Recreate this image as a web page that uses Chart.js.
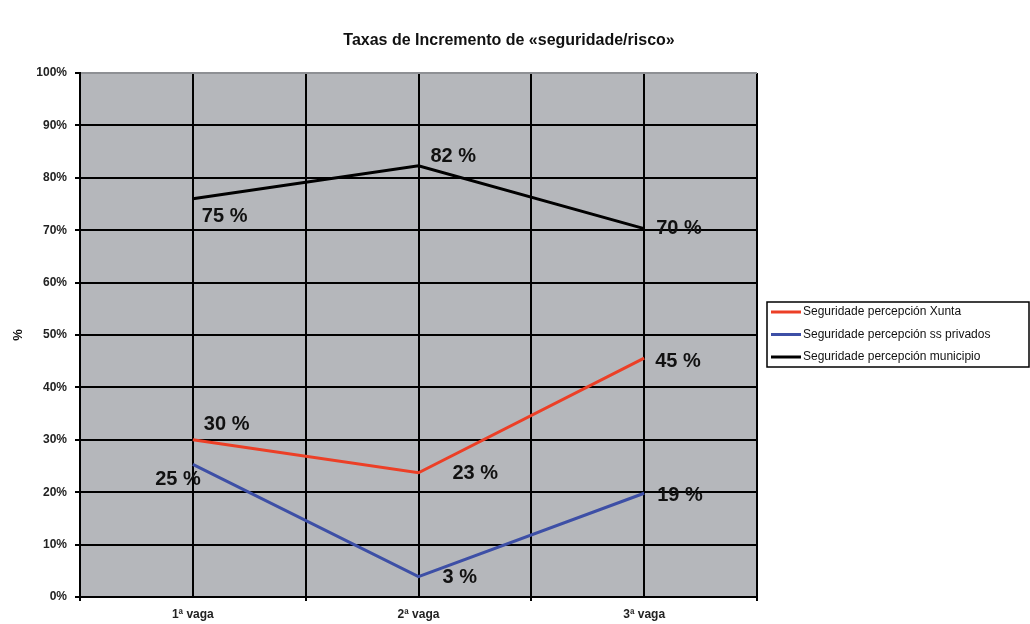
<!DOCTYPE html>
<html>
<head>
<meta charset="utf-8">
<script src="https://cdn.jsdelivr.net/npm/chart.js@4"></script>
<style>
  html, body { margin: 0; padding: 0; background: #fff; }
  #wrap { width: 1030px; height: 624px; }
</style>
</head>
<body>
<div id="wrap"><canvas id="chart"></canvas></div>
<script>
// Data
const categories = ['1ª vaga', '2ª vaga', '3ª vaga'];
const seriesNames = ['Seguridade percepción Xunta', 'Seguridade percepción ss privados', 'Seguridade percepción municipio'];
const xuntaValues = [30, 23.7, 45.6];
const privadosValues = [25.3, 3.9, 19.8];
const municipioValues = [76, 82.3, 70.3];
// labels as printed on the chart
const xuntaLabels = ['30 %', '23 %', '45 %'];
const privadosLabels = ['25 %', '3 %', '19 %'];
const municipioLabels = ['75 %', '82 %', '70 %'];
const yTicks = [0, 10, 20, 30, 40, 50, 60, 70, 80, 90, 100];
const chartTitle = 'Taxas de Incremento de «seguridade/risco»';

const seriesColors = ['#ec3f26', '#3d4fa6', '#000000'];

// where each value label sits relative to its point
const labelPlacement = [
  [{ dx: 11, dy: -15, align: 'left' }, { dx: 34, dy: 1, align: 'left' }, { dx: 11, dy: 3, align: 'left' }],
  [{ dx: 8, dy: 15, align: 'right' }, { dx: 24, dy: 1, align: 'left' }, { dx: 13, dy: 2, align: 'left' }],
  [{ dx: 9, dy: 18, align: 'left' }, { dx: 12, dy: -9, align: 'left' }, { dx: 12, dy: 0, align: 'left' }]
];
const allLabels = [xuntaLabels, privadosLabels, municipioLabels];

const plotBackground = {
  id: 'plotBackground',
  beforeDraw(chart) {
    const { ctx, chartArea: a } = chart;
    ctx.save();
    ctx.fillStyle = '#b5b7bb';
    ctx.fillRect(a.left, a.top, a.right - a.left, a.bottom - a.top);
    ctx.restore();
  }
};

// title centred on the whole picture, not just the plot
const pageTitle = {
  id: 'pageTitle',
  afterDraw(chart) {
    const ctx = chart.ctx;
    ctx.save();
    ctx.font = 'bold 16px "Liberation Sans", Arial, sans-serif';
    ctx.fillStyle = '#111';
    ctx.textAlign = 'center';
    ctx.textBaseline = 'middle';
    ctx.fillText(chartTitle, chart.width / 2 - 6, 41);
    ctx.restore();
  }
};

const valueLabels = {
  id: 'valueLabels',
  afterDatasetsDraw(chart) {
    const ctx = chart.ctx;
    ctx.save();
    ctx.font = 'bold 20px "Liberation Sans", Arial, sans-serif';
    ctx.fillStyle = '#111';
    ctx.textBaseline = 'middle';
    chart.data.datasets.forEach((ds, i) => {
      chart.getDatasetMeta(i).data.forEach((pt, j) => {
        const p = labelPlacement[i][j];
        ctx.textAlign = p.align;
        ctx.fillText(allLabels[i][j], pt.x + p.dx, pt.y + p.dy);
      });
    });
    ctx.restore();
  }
};

const boxLegend = {
  id: 'boxLegend',
  afterDraw(chart) {
    const ctx = chart.ctx;
    const left = 767, top = 302, w = 262, h = 65;
    ctx.save();
    ctx.fillStyle = '#fff';
    ctx.fillRect(left, top, w, h);
    ctx.strokeStyle = '#000';
    ctx.lineWidth = 1.5;
    ctx.strokeRect(left, top, w, h);
    ctx.font = '12px "Liberation Sans", Arial, sans-serif';
    ctx.fillStyle = '#111';
    ctx.textBaseline = 'middle';
    ctx.textAlign = 'left';
    chart.data.datasets.forEach((ds, i) => {
      const y = top + 10 + i * 22.5;
      ctx.strokeStyle = ds.borderColor;
      ctx.lineWidth = 3;
      ctx.beginPath();
      ctx.moveTo(left + 4, y);
      ctx.lineTo(left + 34, y);
      ctx.stroke();
      ctx.fillText(ds.label, left + 36, y);
    });
    ctx.restore();
  }
};

const valueSets = [xuntaValues, privadosValues, municipioValues];

new Chart(document.getElementById('chart'), {
  type: 'line',
  data: {
    labels: categories,
    datasets: valueSets.map((vals, i) => ({
      label: seriesNames[i],
      data: vals,
      borderColor: seriesColors[i],
      backgroundColor: seriesColors[i],
      borderWidth: 3,
      pointRadius: 0,
      tension: 0,
      fill: false
    }))
  },
  options: {
    responsive: true,
    maintainAspectRatio: false,
    animation: false,
    layout: { padding: { left: 0, right: 273, top: 73, bottom: 0 } },
    plugins: {
      legend: { display: false },
      tooltip: { enabled: false },
      title: { display: false }
    },
    scales: {
      x: {
        type: 'category',
        offset: true,
        grid: {
          offset: true,
          color: ctx => ctx.index === categories.length ? '#8e9094' : '#000',
          lineWidth: 2,
          tickLength: 4,
          tickColor: '#000'
        },
        border: { display: true, color: '#000', width: 2 },
        ticks: {
          color: '#222',
          padding: 6,
          font: { family: '"Liberation Sans", Arial, sans-serif', size: 12, weight: 'bold' }
        },
        afterFit: s => { s.height = 27; }
      },
      x2: {
        type: 'category',
        position: 'bottom',
        offset: true,
        grid: { offset: false, color: '#000', lineWidth: 2, drawTicks: false },
        border: { display: false },
        ticks: { display: false },
        afterFit: s => { s.height = 0; }
      },
      y: {
        min: 0,
        max: 100,
        afterBuildTicks: s => { s.ticks = yTicks.map(v => ({ value: v })); },
        grid: {
          color: ctx => ctx.tick && ctx.tick.value === 100 ? '#8e9094' : '#000',
          lineWidth: 2,
          tickLength: 5,
          tickColor: '#000'
        },
        border: { display: true, color: '#000', width: 2 },
        ticks: {
          color: '#222',
          padding: 8,
          callback: v => v + '%',
          font: { family: '"Liberation Sans", Arial, sans-serif', size: 12, weight: 'bold' }
        },
        title: {
          display: true,
          text: '%',
          color: '#111',
          padding: { top: 11, bottom: 4 },
          font: { family: '"Liberation Sans", Arial, sans-serif', size: 13, weight: 'bold' }
        },
        afterFit: s => { s.width = 80; }
      }
    }
  },
  plugins: [plotBackground, valueLabels, boxLegend, pageTitle]
});
</script>
</body>
</html>
